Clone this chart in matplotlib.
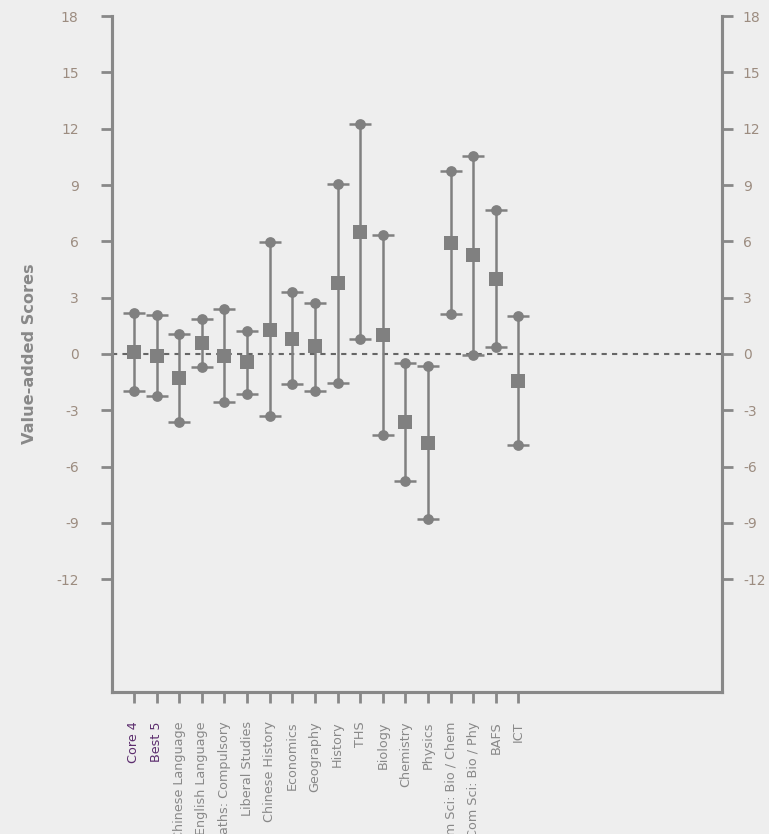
import numpy as np
import matplotlib.pyplot as plt

# Data
subjects = ['Core 4', 'Best 5', 'Chinese Language', 'English Language',
            'Maths: Compulsory', 'Liberal Studies', 'Chinese History',
            'Economics', 'Geography', 'History', 'THS', 'Biology',
            'Chemistry', 'Physics', 'Com Sci: Bio / Chem',
            'Com Sci: Bio / Phy', 'BAFS', 'ICT']
mid = [0.1, -0.1, -1.27, 0.58, -0.09, -0.44, 1.29, 0.8, 0.41, 3.77,
       6.51, 0.99, -3.63, -4.73, 5.91, 5.26, 3.98, -1.42]
upper = [2.2, 2.07, 1.06, 1.84, 2.39, 1.2, 5.95, 3.28, 2.74, 9.04,
         12.23, 6.34, -0.5, -0.62, 9.72, 10.55, 7.68, 2.02]
lower = [-1.98, -2.25, -3.63, -0.71, -2.57, -2.14, -3.31, -1.59, -1.95,
         -1.54, 0.81, -4.3, -6.76, -8.8, 2.14, -0.04, 0.36, -4.83]
yticks = [18, 15, 12, 9, 6, 3, 0, -3, -6, -9, -12]

grey = '#808080'
axis_col = '#888888'
label_col = '#9c8c80'
bg = '#eeeeee'

fig = plt.figure(figsize=(7.69, 8.34), dpi=100, facecolor=bg)
ax = fig.add_axes([0.1456, 0.1703, 0.7934, 0.8105], facecolor=bg)

x = np.arange(len(subjects))
mid = np.array(mid)
upper = np.array(upper)
lower = np.array(lower)

ax.axhline(0, color='#666666', lw=1.5, ls=(0, (2.5, 2.5)), zorder=1)

ax.errorbar(x, mid, yerr=[mid - lower, upper - mid], fmt='none',
            ecolor=grey, elinewidth=1.8, capsize=8, capthick=1.8, zorder=2)
ax.scatter(x, upper, s=60, color=grey, marker='o', zorder=3, linewidths=0)
ax.scatter(x, lower, s=60, color=grey, marker='o', zorder=3, linewidths=0)
ax.scatter(x, mid, s=110, color=grey, marker='s', zorder=4, linewidths=0)

ax.set_xlim(-0.97, 26.0)
ax.set_ylim(-18, 18)

ax.set_yticks(yticks)
ax.set_yticklabels([str(v) for v in yticks])
ax.set_xticks(x)
ax.set_xticklabels(subjects, rotation=90, va='top')

ax.tick_params(axis='y', length=8, width=2, color=axis_col,
               labelcolor=label_col, labelsize=10, pad=16)
ax.tick_params(axis='x', length=8, width=2, color=axis_col,
               labelcolor='#888888', labelsize=9.2, pad=13)
for i, lab in enumerate(ax.get_xticklabels()):
    if i < 2:
        lab.set_color('#5c2d6e')

# right-hand axis repeats the scale
ax2 = ax.twinx()
ax2.set_ylim(ax.get_ylim())
ax2.set_yticks(yticks)
ax2.set_yticklabels([str(v) for v in yticks])
ax2.tick_params(axis='y', length=8, width=2, color=axis_col,
                labelcolor=label_col, labelsize=10, pad=7)

for a in (ax, ax2):
    for side in ['left', 'right', 'bottom']:
        a.spines[side].set_color(axis_col)
        a.spines[side].set_linewidth(2.2)
    a.spines['top'].set_visible(False)

ax.set_ylabel('Value-added Scores', color='#888888', fontsize=11.6,
              fontweight='bold', labelpad=14)

fig.savefig('out.png', dpi=100, facecolor=bg)
